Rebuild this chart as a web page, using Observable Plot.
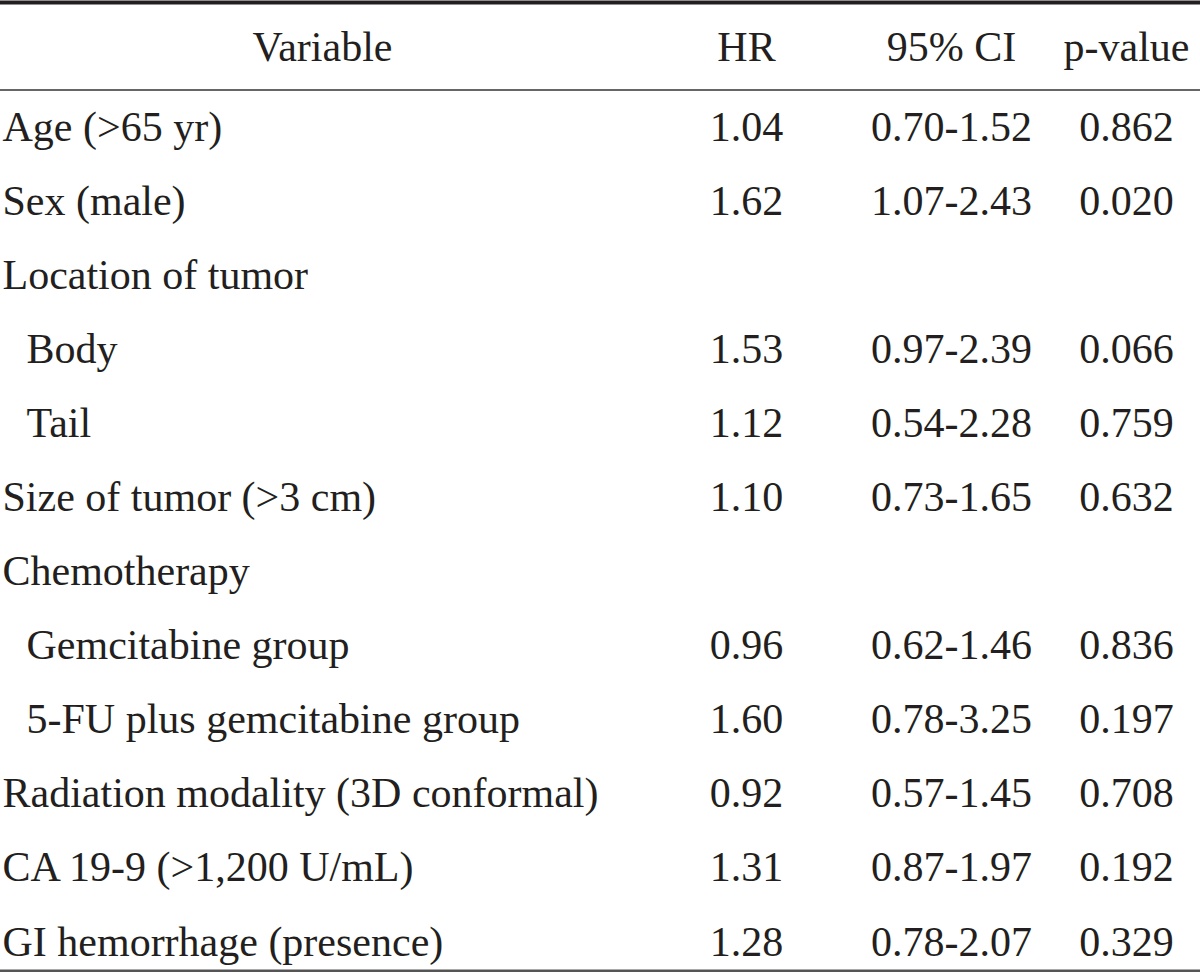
<!DOCTYPE html>
<html><head><meta charset="utf-8">
<script src="https://cdn.jsdelivr.net/npm/d3@7"></script>
<script src="https://cdn.jsdelivr.net/npm/@observablehq/plot@0.6"></script>
<style>html,body{margin:0;padding:0;background:#fff}#chart svg{display:block}</style>
</head><body><div id="chart"></div>
<script>
// ---- data ----
const headers = ["Variable", "HR", "95% CI", "p-value"];
const variables = [
  "Age (>65 yr)", "Sex (male)", "Location of tumor", "Body", "Tail",
  "Size of tumor (>3 cm)", "Chemotherapy", "Gemcitabine group",
  "5-FU plus gemcitabine group", "Radiation modality (3D conformal)",
  "CA 19-9 (>1,200 U/mL)", "GI hemorrhage (presence)"
];
const subLevel = [0, 0, 0, 1, 1, 0, 0, 1, 1, 0, 0, 0];
const hr   = ["1.04", "1.62", "", "1.53", "1.12", "1.10", "", "0.96", "1.60", "0.92", "1.31", "1.28"];
const ci   = ["0.70-1.52", "1.07-2.43", "", "0.97-2.39", "0.54-2.28", "0.73-1.65", "", "0.62-1.46", "0.78-3.25", "0.57-1.45", "0.87-1.97", "0.78-2.07"];
const pval = ["0.862", "0.020", "", "0.066", "0.759", "0.632", "", "0.836", "0.197", "0.708", "0.192", "0.329"];

// ---- layout (not data) ----
const colCenter = {"Variable": 322, "HR": 746, "95% CI": 951, "p-value": 1126};
const leftX = 2, indentW = 24;
const nRows = variables.length;

const headerCells = headers.map(h => ({x: colCenter[h], row: 0, text: h}));
const nameCells = variables.map((v, i) => ({x: leftX + subLevel[i] * indentW, row: i + 1, text: v}));
const valueCells = [];
variables.forEach((v, i) => {
  [["HR", hr[i]], ["95% CI", ci[i]], ["p-value", pval[i]]].forEach(([c, t]) => {
    if (t) valueCells.push({x: colCenter[c], row: i + 1, text: t});
  });
});

const font = {fontFamily: "'Liberation Serif', 'Times New Roman', serif", fontSize: 42, fill: "#231f20"};

const chart = Plot.plot({
  width: 1200,
  height: 972,
  margin: 0,
  x: {type: "linear", domain: [0, 1200], range: [0, 1200], axis: null},
  y: {type: "linear", domain: [-0.7086, nRows + 0.41], range: [0, 972], axis: null},
  marks: [
    Plot.ruleY([-0.682], {stroke: "#231f20", strokeWidth: 4}),
    Plot.ruleY([0.5], {stroke: "#333", strokeWidth: 1.6}),
    Plot.ruleY([nRows + 0.39], {stroke: "#555", strokeWidth: 3}),
    Plot.text(headerCells, {x: "x", y: "row", text: "text", textAnchor: "middle", dy: -5, ...font}),
    Plot.text(nameCells, {x: "x", y: "row", text: "text", textAnchor: "start", ...font}),
    Plot.text(valueCells, {x: "x", y: "row", text: "text", textAnchor: "middle", ...font})
  ]
});
document.getElementById("chart").appendChild(chart);
</script>
</body></html>
